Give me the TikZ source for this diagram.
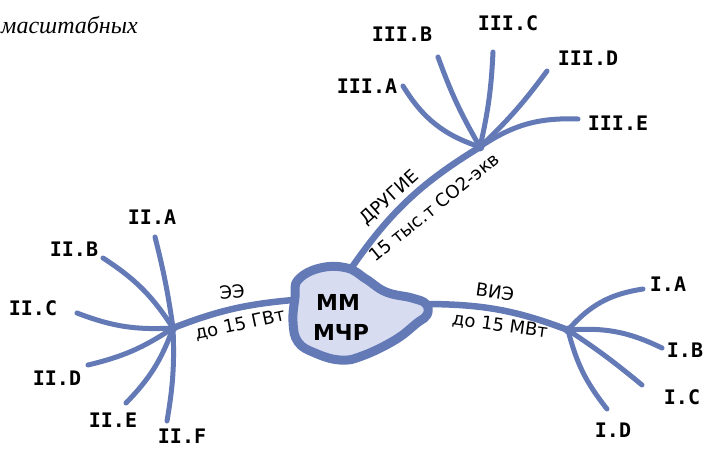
\documentclass[tikz,border=0pt]{standalone}
\usepackage{fontspec}
\setmainfont{DejaVu Sans}
\newfontfamily\monofam{DejaVu Sans Mono}
\newfontfamily\seriffam{Liberation Serif}
\definecolor{mmblue}{RGB}{100,122,182}
\definecolor{mmfill}{RGB}{216,220,240}
\tikzset{
  twig/.style={draw=mmblue, line width=5pt, line cap=round},
  stem/.style={draw=mmblue, line width=6.5pt, line cap=round},
  leaf/.style={font=\monofam\bfseries\fontsize{20}{22}\selectfont},
  tag/.style={font=\fontsize{18}{20}\selectfont},
}
\begin{document}
\begin{tikzpicture}[x=1pt, y=-1pt, line join=round]
\useasboundingbox (0,0) rectangle (703,448);
\path (173,328) coordinate (H2) (568,330) coordinate (H1) (480,147) coordinate (H3)
 (293,300) coordinate (L) (430,304) coordinate (R) (350,270) coordinate (T);
% stems
\draw[stem] (L) to[bend right=8] (H2);
\draw[stem] (R) to[bend left=10] (H1);
\draw[stem] (T) to[bend left=12] (H3);
% twigs: name/text/hub/end/label/bend
\foreach \nm/\txt/\h/\ex/\ey/\lx/\ly/\b in {
  3a/III.A/H3/403/86/367/86/20, 3b/III.B/H3/438/57/402/34/5,
  3c/III.C/H3/493/52/508/23/-5, 3d/III.D/H3/547/71/588/58/-5,
  3e/III.E/H3/578/119/618/123/18,
  2a/II.A/H2/155/237/152/217/-3, 2b/II.B/H2/103/258/74/249/-12,
  2c/II.C/H2/77/313/33/308/12, 2d/II.D/H2/88/365/57/378/10,
  2e/II.E/H2/126/403/113/420/12, 2f/II.F/H2/167/421/182/436/6,
  1a/I.A/H1/643/289/668/284/20, 1b/I.B/H1/662/348/685/350/15,
  1c/I.C/H1/642/385/682/397/3, 1d/I.D/H1/607/409/613/430/-12}
{
  \coordinate (e\nm) at (\ex,\ey);
  \node[leaf] (n\nm) at (\lx,\ly) {\txt};
  \draw[twig] (\h) to[bend left=\b] (e\nm);
}
\foreach \h in {H1,H2,H3} \fill[mmblue] (\h) circle (4.5);
% core
\draw[mmblue, fill=mmfill, line width=9pt] plot[smooth cycle, tension=0.7] coordinates {
  (298,280) (320,268) (347,268) (366,279) (386,292) (412,298) (426,304) (427,315)
  (417,323) (395,340) (362,356) (340,360) (315,353) (298,342) (293,322) (295,297)};
\node[font=\bfseries\fontsize{22}{24}\selectfont] (mm) at (338,302) {ММ};
\node[font=\bfseries\fontsize{22}{24}\selectfont] (mchr) at (341,332) {МЧР};
% stem tags
\node[tag, rotate=5] (ee) at (232,292) {ЭЭ};
\node[tag, rotate=12] (gw) at (240,325) {до 15 ГВт};
\node[tag, rotate=-8] (vie) at (495,292) {ВИЭ};
\node[tag, rotate=-8] (mw) at (500,326) {до 15 МВт};
\node[tag, rotate=42] (oth) at (390,198) {ДРУГИЕ};
\node[tag, rotate=39] (co2) at (434,207) {15 тыс.т CO2-экв};
\node[font=\seriffam\itshape\fontsize{24}{26}\selectfont, anchor=base west, inner sep=0pt] (cap) at (1,33) {масштабных};
\end{tikzpicture}
\end{document}
